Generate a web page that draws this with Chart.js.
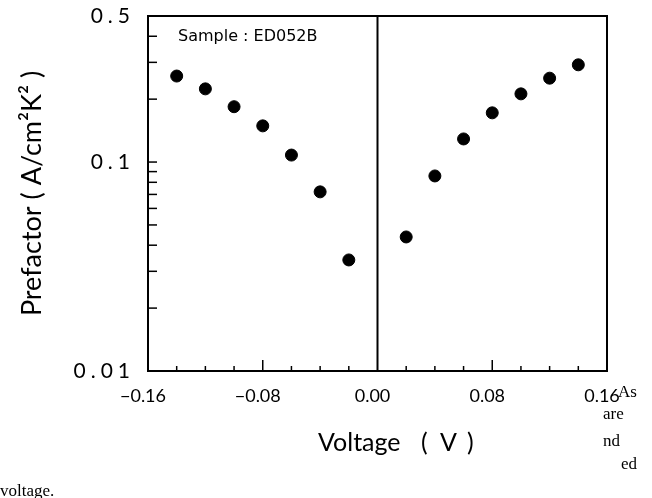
<!DOCTYPE html>
<html>
<head>
<meta charset="utf-8">
<script src="https://cdn.jsdelivr.net/npm/chart.js@4/dist/chart.umd.min.js"></script>
<style>
  html, body { margin: 0; padding: 0; background: #fff; }
  #wrap { width: 652px; height: 498px; position: relative; }
</style>
</head>
<body>
<div id="wrap"><canvas id="c" width="652" height="498"></canvas></div>
<script>
// ---- data ----
const voltageNeg   = [-0.14, -0.12, -0.10, -0.08, -0.06, -0.04, -0.02];
const prefactorNeg = [0.258, 0.224, 0.184, 0.149, 0.108, 0.072, 0.034];
const voltagePos   = [0.02, 0.04, 0.06, 0.08, 0.10, 0.12, 0.14];
const prefactorPos = [0.0438, 0.0858, 0.129, 0.172, 0.212, 0.252, 0.292];

const yTickValues  = [0.01, 0.02, 0.03, 0.04, 0.05, 0.06, 0.07, 0.08, 0.09, 0.1, 0.2, 0.3, 0.4, 0.5];
const yTickLabels  = { 0.01: '0.01', 0.1: '0.1', 0.5: '0.5' };
const xLabelStep   = 0.08;
const sampleLabel  = 'Sample : ED052B';
const xTitleParts  = ['Voltage', '(', 'V', ')'];
const yTitle       = 'Prefactor ( A/cm\u00B2K\u00B2 )';
const strayText    = [['As', 618, 397], ['are', 603, 419], ['nd', 603, 446], ['ed', 621, 469], ['voltage.', 0, 496]];

const pts = (xs, ys) => xs.map((x, i) => ({ x: x, y: ys[i] }));
const FONT = 'Lato, "DejaVu Sans", sans-serif';

const framePlugin = {
  id: 'frame',
  afterDatasetsDraw(chart) {
    const { ctx, chartArea: a, scales: { x, y } } = chart;
    ctx.save();
    ctx.strokeStyle = '#000';
    ctx.lineWidth = 2;
    ctx.strokeRect(a.left, a.top, a.right - a.left, a.bottom - a.top);
    // zero line
    const x0 = x.getPixelForValue(0);
    ctx.beginPath(); ctx.moveTo(x0, a.top); ctx.lineTo(x0, a.bottom); ctx.stroke();
    // inward x ticks
    ctx.lineWidth = 1.5;
    x.ticks.forEach(t => {
      const px = x.getPixelForValue(t.value);
      if (px <= a.left + 1 || px >= a.right - 1 || Math.abs(t.value) < 1e-9) return;
      const major = Math.abs(Math.round(t.value / xLabelStep) * xLabelStep - t.value) < 1e-9;
      const len = major ? 11 : 5;
      ctx.beginPath(); ctx.moveTo(px, a.bottom); ctx.lineTo(px, a.bottom - len); ctx.stroke();
    });
    // inward y ticks
    y.ticks.forEach(t => {
      const py = y.getPixelForValue(t.value);
      if (py <= a.top + 1 || py >= a.bottom - 1) return;
      ctx.beginPath(); ctx.moveTo(a.left, py); ctx.lineTo(a.left + 9, py); ctx.stroke();
    });
    ctx.fillStyle = '#000';
    // sample label
    ctx.font = '16px "DejaVu Sans", sans-serif';
    ctx.textAlign = 'left';
    ctx.textBaseline = 'middle';
    ctx.fillText(sampleLabel, a.left + 30, a.top + 21);
    // x axis title, spaced as in the reference
    ctx.font = '25px ' + FONT;
    ctx.textBaseline = 'alphabetic';
    const xt = [318, 421, 440, 467];
    xTitleParts.forEach((p, i) => ctx.fillText(p, xt[i], 451));
    // stray scanned caption text
    ctx.font = '17px "Liberation Serif", serif';
    strayText.forEach(s => ctx.fillText(s[0], s[1], s[2]));
    ctx.restore();
  },
  afterUpdate(chart) {
    const ys = chart.scales.y;
    if (ys && !ys._spaced) {
      ys._spaced = true;
      const orig = ys.drawLabels.bind(ys);
      ys.drawLabels = function (area) {
        const prev = this.ctx.letterSpacing;
        this.ctx.letterSpacing = '5px';
        orig(area);
        this.ctx.letterSpacing = prev || '0px';
      };
    }
  }
};

new Chart(document.getElementById('c'), {
  type: 'scatter',
  data: {
    datasets: [
      { data: pts(voltageNeg, prefactorNeg), backgroundColor: '#000', borderColor: '#000', pointRadius: 6, pointHoverRadius: 6 },
      { data: pts(voltagePos, prefactorPos), backgroundColor: '#000', borderColor: '#000', pointRadius: 6, pointHoverRadius: 6 }
    ]
  },
  options: {
    responsive: false,
    animation: false,
    events: [],
    layout: { padding: { left: 0, top: 16, right: 45, bottom: 0 } },
    plugins: { legend: { display: false }, tooltip: { enabled: false } },
    scales: {
      x: {
        type: 'linear',
        min: -0.16, max: 0.16,
        afterFit(s) { s.height = 127; s.paddingLeft = 0; s.paddingRight = 0; },
        grid: { display: false, drawTicks: false },
        border: { display: false },
        ticks: {
          stepSize: 0.02,
          autoSkip: false,
          maxRotation: 0,
          padding: 14,
          labelOffset: -5,
          color: '#000',
          font: { family: FONT, size: 18 },
          callback(v) {
            const k = Math.round(v / xLabelStep);
            if (Math.abs(k * xLabelStep - v) > 1e-9) return '';
            return (k * xLabelStep).toFixed(2).replace('-', '\u2212');
          }
        },
        title: { display: false }
      },
      y: {
        type: 'logarithmic',
        min: 0.01, max: 0.5,
        afterFit(s) { s.width = 148; s.paddingTop = 0; s.paddingBottom = 0; },
        afterBuildTicks(s) { s.ticks = yTickValues.map(v => ({ value: v })); },
        grid: { display: false, drawTicks: false },
        border: { display: false },
        ticks: {
          autoSkip: false,
          padding: 13,
          color: '#000',
          font: { family: FONT, size: 21 },
          callback(v) { return yTickLabels[v] || ''; }
        },
        title: { display: true, text: yTitle, color: '#000', font: { family: FONT, size: 27 }, padding: { top: 16, bottom: 0 } }
      }
    }
  },
  plugins: [framePlugin]
});
</script>
</body>
</html>
